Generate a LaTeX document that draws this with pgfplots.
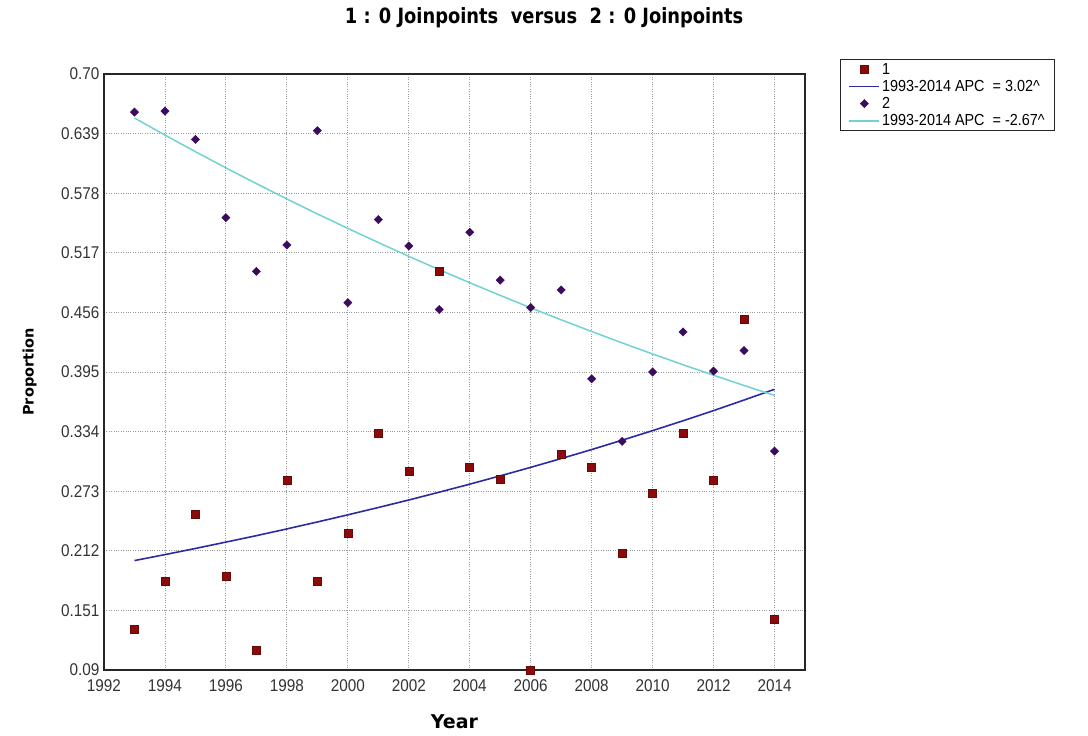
\documentclass[border=0pt]{standalone}
\usepackage{pgfplots}
\pgfplotsset{compat=1.18}
\usepackage{fontspec}
\setmainfont{Liberation Sans}[FakeStretch=0.9]
\newfontfamily\labfont{DejaVu Sans}
\newfontfamily\titlefont{DejaVu Sans}[FakeStretch=0.85]
\definecolor{sqred}{HTML}{8B0A0A}
\definecolor{dpurple}{HTML}{3B0B5E}
\definecolor{fitblue}{HTML}{2B2BA3}
\definecolor{fitcyan}{HTML}{70D2D2}

\pgfplotstableread{
year val
1993 0.132
1994 0.181
1995 0.249
1996 0.186
1997 0.110
1998 0.284
1999 0.181
2000 0.230
2001 0.332
2002 0.293
2003 0.498
2004 0.298
2005 0.285
2006 0.090
2007 0.311
2008 0.298
2009 0.209
2010 0.271
2011 0.332
2012 0.284
2013 0.449
2014 0.142
}\seriesA

\pgfplotstableread{
year val
1993 0.661
1994 0.662
1995 0.633
1996 0.553
1997 0.498
1998 0.525
1999 0.642
2000 0.466
2001 0.551
2002 0.524
2003 0.459
2004 0.538
2005 0.489
2006 0.461
2007 0.479
2008 0.388
2009 0.324
2010 0.395
2011 0.436
2012 0.396
2013 0.417
2014 0.314
}\seriesB

\pgfplotstableread{
year val
1993 0.2020
1994 0.2081
1995 0.2144
1996 0.2209
1997 0.2275
1998 0.2344
1999 0.2415
2000 0.2488
2001 0.2563
2002 0.2640
2003 0.2720
2004 0.2802
2005 0.2887
2006 0.2974
2007 0.3064
2008 0.3156
2009 0.3252
2010 0.3350
2011 0.3451
2012 0.3555
2013 0.3663
2014 0.3773
}\fitA

\pgfplotstableread{
year val
1993 0.6550
1994 0.6375
1995 0.6205
1996 0.6039
1997 0.5878
1998 0.5721
1999 0.5568
2000 0.5420
2001 0.5275
2002 0.5134
2003 0.4997
2004 0.4864
2005 0.4734
2006 0.4607
2007 0.4484
2008 0.4365
2009 0.4248
2010 0.4135
2011 0.4024
2012 0.3917
2013 0.3812
2014 0.3710
}\fitB

\begin{document}
\begin{tikzpicture}
\useasboundingbox (-104pt,-66pt) rectangle (984pt,670pt);
\begin{axis}[
  at={(0,0)}, anchor=south west,
  scale only axis, width=701pt, height=596pt,
  xmin=1992, xmax=2015, ymin=0.09, ymax=0.70,
  clip=false,
  axis line style={line width=1.3pt, draw=black!85},
  major tick length=0pt,
  xtick={1992,1994,1996,1998,2000,2002,2004,2006,2008,2010,2012,2014},
  xticklabels={1992,1994,1996,1998,2000,2002,2004,2006,2008,2010,2012,2014},
  ytick={0.09,0.151,0.212,0.273,0.334,0.395,0.456,0.517,0.578,0.639,0.70},
  yticklabels={0.09,0.151,0.212,0.273,0.334,0.395,0.456,0.517,0.578,0.639,0.70},
  ticklabel style={font=\fontsize{17}{17}\selectfont, text=black!80},
  xticklabel style={yshift=-6pt},
  yticklabel style={xshift=-1pt},
  grid=major,
  major grid style={dotted, line width=0.9pt, draw=black!40},
  title={1 : 0 Joinpoints\ \ versus\ \ 2 : 0 Joinpoints},
  title style={at={(rel axis cs:0.6277,1.0839)}, anchor=center, font=\titlefont\bfseries\fontsize{21}{21}\selectfont},
  xlabel={Year},
  ylabel={Proportion},
  xlabel style={at={(rel axis cs:0.5,-0.087)}, anchor=center, font=\labfont\bfseries\fontsize{19}{19}\selectfont},
  ylabel style={at={(rel axis cs:-0.106,0.5)}, anchor=center, font=\labfont\bfseries\fontsize{14.5}{14.5}\selectfont},
  legend cell align=left,
  legend image code/.code={\draw[mark repeat=2,mark phase=2,#1] plot coordinates {(0pt,0pt) (15pt,0pt) (30pt,0pt)};},
  legend style={at={(rel axis cs:1.0499,1.0252)}, anchor=north west,
    font=\fontsize{16}{16}\selectfont, draw=black!85, line width=1.2pt,
    inner xsep=8pt, inner ysep=3pt, row sep=3.5pt,
    nodes={inner ysep=0.5pt}},
]
\addplot[only marks, mark=square*, mark size=4pt, mark options={fill=sqred, draw=sqred!75!black, line width=0.5pt}] table[x=year,y=val] {\seriesA};
\addlegendentry{1}
\addplot[fitblue, line width=1.6pt, no marks] table[x=year,y=val] {\fitA};
\addlegendentry{1993-2014 APC\ \ = 3.02\textasciicircum}
\addplot[only marks, mark=square*, mark size=2.9pt, mark options={rotate=45, fill=dpurple, draw=dpurple, line width=0.5pt}] table[x=year,y=val] {\seriesB};
\addlegendentry{2}
\addplot[fitcyan, line width=1.5pt, no marks] table[x=year,y=val] {\fitB};
\addlegendentry{1993-2014 APC\ \ = -2.67\textasciicircum}
\end{axis}
\end{tikzpicture}
\end{document}
